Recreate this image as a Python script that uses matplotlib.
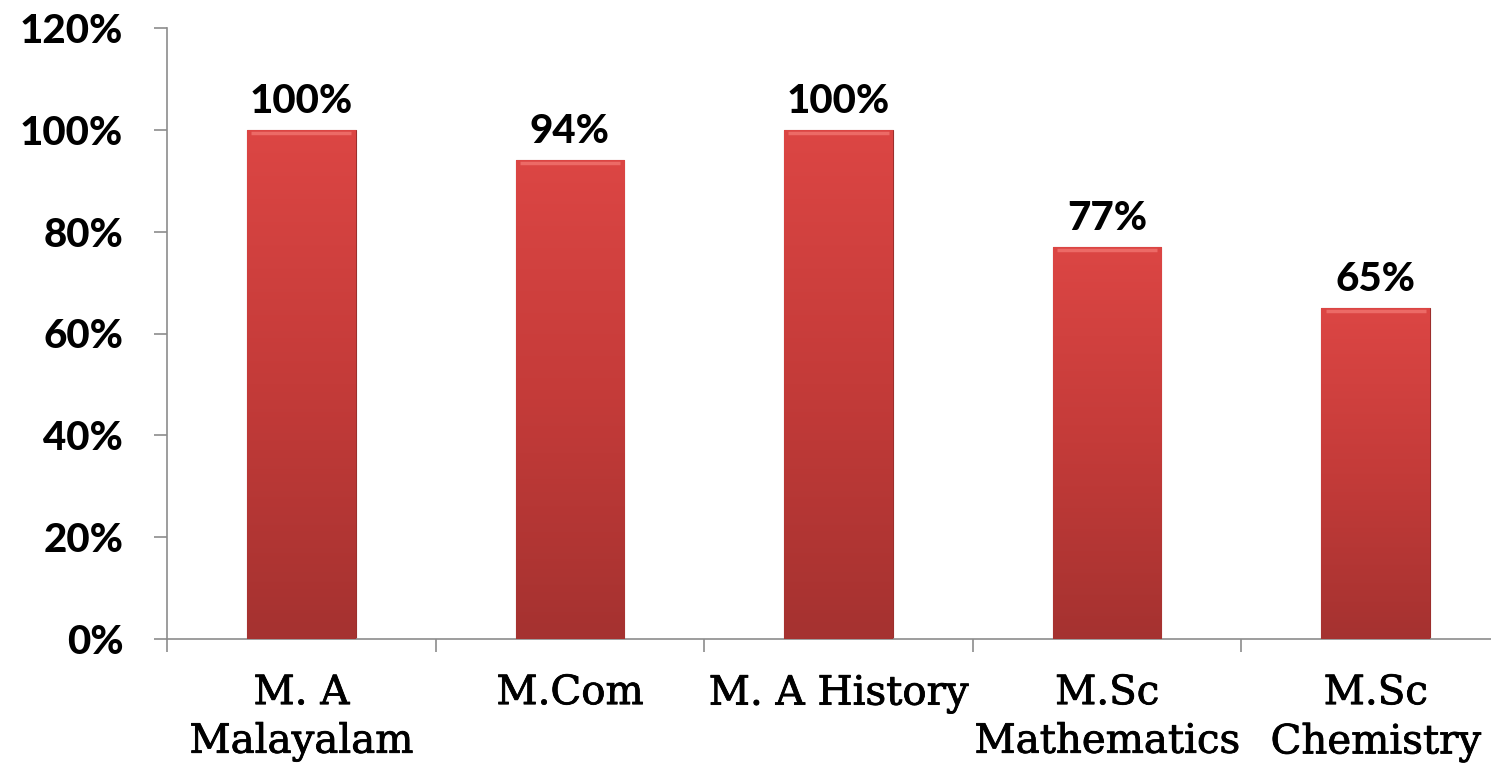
import numpy as np
import matplotlib.pyplot as plt
import matplotlib.patheffects as pe
from matplotlib.colors import LinearSegmentedColormap

courses = ["M. A\nMalayalam", "M.Com", "M. A History", "M.Sc\nMathematics", "M.Sc\nChemistry"]
pass_pct = [100, 94, 100, 77, 65]
y_ticks = [0, 20, 40, 60, 80, 100, 120]

fig = plt.figure(figsize=(14.91, 7.68), dpi=100)
ax = fig.add_axes([167 / 1491, 129 / 768, 1343 / 1491, 611 / 768])

x = np.arange(len(courses))
bars = ax.bar(x, pass_pct, width=0.405, color="#c93c3a", edgecolor="#9c2e2c",
              linewidth=0.8, zorder=2)

# vertical gradient inside each bar: lighter on top, darker at the base
cmap = LinearSegmentedColormap.from_list("redgrad", ["#a53230", "#c43b39", "#dc4644"])
grad = np.linspace(0, 1, 256).reshape(-1, 1)
for b in bars:
    x0, w, h = b.get_x(), b.get_width(), b.get_height()
    im = ax.imshow(grad, cmap=cmap, origin="lower", aspect="auto",
                   extent=[x0, x0 + w, 0, h], zorder=3, interpolation="bicubic")
    im.set_clip_path(b)
    # thin highlight at the top edge
    ax.plot([x0 + w * 0.04, x0 + w * 0.96], [h - 0.6, h - 0.6], color="#ec6a66",
            linewidth=2.5, zorder=4, solid_capstyle="butt")
    ax.text(x0 + w / 2, h + 2.0, f"{h:.0f}%", ha="center", va="bottom",
            fontsize=29, fontweight="black", family="Lato", zorder=5)

ax.set_xlim(-0.5, len(courses) - 0.5)
ax.set_ylim(0, 120)
ax.set_yticks(y_ticks)
ax.set_yticklabels([f"{t}%" for t in y_ticks], fontsize=29, fontweight="black", family="Lato")

ax.set_xticks(np.arange(len(courses) + 1) - 0.5)
ax.set_xticklabels([])
ax.set_xticks(x, minor=True)
labels = ax.set_xticklabels(courses, minor=True, fontsize=29, family="DejaVu Serif",
                            linespacing=1.4)
for t in labels:
    t.set_path_effects([pe.withStroke(linewidth=0.6, foreground="black")])
ax.tick_params(axis="x", which="minor", length=0, pad=26)
ax.tick_params(axis="x", which="major", length=9.5, width=1.2, color="#8c8c8c", direction="out")
ax.tick_params(axis="y", length=9.5, width=1.2, color="#8c8c8c", pad=22, direction="out")

for s in ["top", "right"]:
    ax.spines[s].set_visible(False)
for s in ["left", "bottom"]:
    ax.spines[s].set_color("#8c8c8c")
    ax.spines[s].set_linewidth(1.2)

fig.savefig("out.png", dpi=100)
